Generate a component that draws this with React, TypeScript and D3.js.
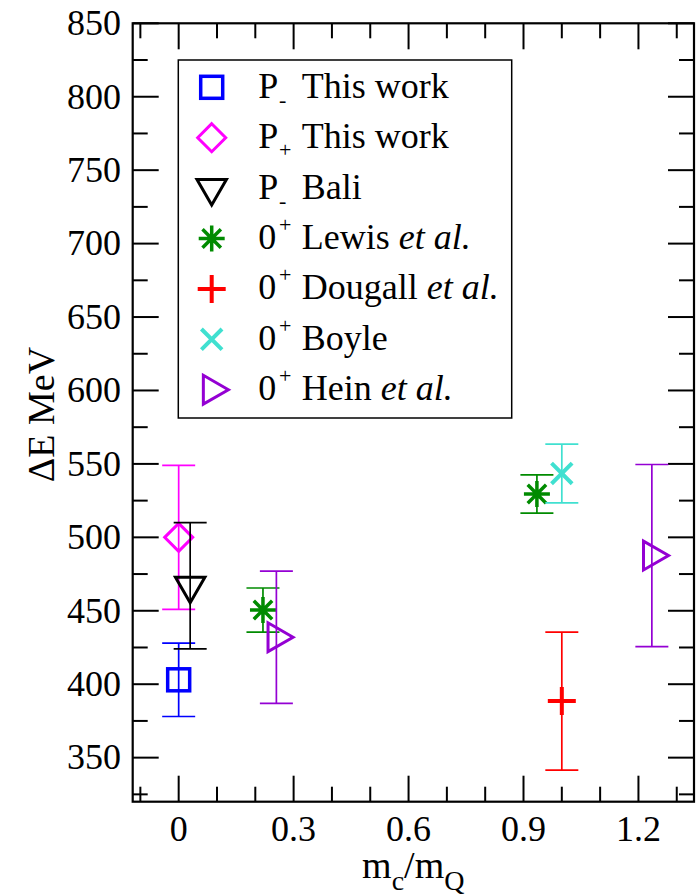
import React from "react";
import * as d3 from "d3";

// ---- data ----
const seriesNames = [
  "P- This work",
  "P+ This work",
  "P- Bali",
  "0+ Lewis et al.",
  "0+ Dougall et al.",
  "0+ Boyle",
  "0+ Hein et al.",
];
const seriesX = [[0], [0], [0.03], [0.22, 0.935], [1.0], [1.0], [0.255, 1.235]];
const seriesY = [[403], [500], [467], [450.5, 529.5], [388.5], [543.5], [432, 487.6]];
const seriesErr = [[25], [49], [43], [15, 13], [47], [20], [45, 62]];
const seriesSymbols = ["square", "diamond", "triangleDown", "asterisk", "plus", "cross", "triangleRight"];
const seriesColors = ["#0000ff", "#ff00ff", "#000000", "#008b00", "#ff0000", "#40e0d0", "#9400d3"];

const legendPrefix = ["P", "P", "P", "0", "0", "0", "0"];
const legendScript = [
  { t: "-", kind: "sub" },
  { t: "+", kind: "sub" },
  { t: "-", kind: "sub" },
  { t: "+", kind: "sup" },
  { t: "+", kind: "sup" },
  { t: "+", kind: "sup" },
  { t: "+", kind: "sup" },
];
const legendText = ["This work", "This work", "Bali", "Lewis ", "Dougall ", "Boyle", "Hein "];
const legendItalic = ["", "", "", "et al.", "et al.", "", "et al."];

const xMajorTicks = [0, 0.3, 0.6, 0.9, 1.2];
const xTickLabels = ["0", "0.3", "0.6", "0.9", "1.2"];
const xMinorTicks = [-0.1, 0.1, 0.2, 0.4, 0.5, 0.7, 0.8, 1.0, 1.1, 1.3];
const yMajorTicks = [350, 400, 450, 500, 550, 600, 650, 700, 750, 800, 850];
const yMinorTicks = [325, 375, 425, 475, 525, 575, 625, 675, 725, 775, 825];

const xDomain = [-0.12, 1.345];
const yDomain = [320, 850];

// ---- layout ----
const W = 697;
const H = 896;
const left = 132.7;
const right = 694;
const top = 23.3;
const bottom = 801.7;
const FONT = "Liberation Serif";

function Symbol({ type, cx, cy, color }: { type: string; cx: number; cy: number; color: string }) {
  const sw = 3;
  const common = { fill: "none", stroke: color, strokeWidth: sw } as any;
  switch (type) {
    case "square":
      return <rect x={cx - 11} y={cy - 11} width={22} height={22} {...common} strokeWidth={3.5} />;
    case "diamond":
      return <path d={`M${cx},${cy - 14}L${cx + 14},${cy}L${cx},${cy + 14}L${cx - 14},${cy}Z`} {...common} />;
    case "triangleDown": {
      const r = 17;
      return (
        <path
          d={`M${cx},${cy + r}L${cx + r * 0.866},${cy - r / 2}L${cx - r * 0.866},${cy - r / 2}Z`}
          {...common}
        />
      );
    }
    case "triangleRight": {
      const r = 16.7;
      return (
        <path
          d={`M${cx + r},${cy}L${cx - r / 2},${cy - r * 0.866}L${cx - r / 2},${cy + r * 0.866}Z`}
          {...common}
        />
      );
    }
    case "asterisk": {
      const r = 13;
      const d = r * 0.7071;
      return (
        <path
          d={`M${cx},${cy - r}V${cy + r}M${cx - r},${cy}H${cx + r}M${cx - d},${cy - d}L${cx + d},${cy + d}M${cx - d},${cy + d}L${cx + d},${cy - d}`}
          {...common}
          strokeWidth={3.5}
        />
      );
    }
    case "plus": {
      const r = 14;
      return <path d={`M${cx},${cy - r}V${cy + r}M${cx - r},${cy}H${cx + r}`} {...common} strokeWidth={4} />;
    }
    case "cross": {
      const d = 10.3;
      return (
        <path
          d={`M${cx - d},${cy - d}L${cx + d},${cy + d}M${cx - d},${cy + d}L${cx + d},${cy - d}`}
          {...common}
          strokeWidth={4}
        />
      );
    }
  }
  return null;
}

export default function App() {
  const x = d3.scaleLinear().domain(xDomain).range([left, right]);
  const y = d3.scaleLinear().domain(yDomain).range([bottom, top]);
  const majorLen = 26;
  const minorLen = 15;
  const capHalf = 16.5;

  const legendX = 178.3;
  const legendY = 60;
  const legendW = 333.4;
  const legendH = 358;
  const legendSymX = 211.7;
  const legendRow0 = 87.3;
  const legendStep = 50.4;

  return (
    <div>
      <style>{`body{margin:0} svg text{font-family:"Liberation Serif";}`}</style>
      <svg width={W} height={H} fontFamily={FONT}>
        <rect x={0} y={0} width={W} height={H} fill="#fff" />

        {/* ticks */}
        <g stroke="#000" strokeWidth={2}>
          {xMajorTicks.map((t, i) => (
            <g key={"xM" + i}>
              <line x1={x(t)} x2={x(t)} y1={bottom} y2={bottom - majorLen} />
              <line x1={x(t)} x2={x(t)} y1={top} y2={top + majorLen} />
            </g>
          ))}
          {xMinorTicks.map((t, i) => (
            <g key={"xm" + i}>
              <line x1={x(t)} x2={x(t)} y1={bottom} y2={bottom - minorLen} />
              <line x1={x(t)} x2={x(t)} y1={top} y2={top + minorLen} />
            </g>
          ))}
          {yMajorTicks.map((t, i) => (
            <g key={"yM" + i}>
              <line x1={left} x2={left + majorLen} y1={y(t)} y2={y(t)} />
              <line x1={right} x2={right - majorLen} y1={y(t)} y2={y(t)} />
            </g>
          ))}
          {yMinorTicks.map((t, i) => (
            <g key={"ym" + i}>
              <line x1={left} x2={left + minorLen} y1={y(t)} y2={y(t)} />
              <line x1={right} x2={right - minorLen} y1={y(t)} y2={y(t)} />
            </g>
          ))}
        </g>

        {/* tick labels */}
        {xMajorTicks.map((t, i) => (
          <text key={"xl" + i} x={x(t)} y={841} textAnchor="middle" fontSize={36} fontFamily={FONT}>
            {xTickLabels[i]}
          </text>
        ))}
        {yMajorTicks.map((t, i) => (
          <text key={"yl" + i} x={121} y={y(t) + 11.8} textAnchor="end" fontSize={36} fontFamily={FONT}>
            {String(t)}
          </text>
        ))}

        {/* axis titles */}
        <text x={413.3} y={878} fontSize={38} textAnchor="middle" fontFamily={FONT}>
          m
          <tspan fontSize={28} dy={12}>c</tspan>
          <tspan dy={-12}>/m</tspan>
          <tspan fontSize={28} dy={12}>Q</tspan>
        </text>
        <text transform={`translate(53.5,414.5) rotate(-90)`} fontSize={38} textAnchor="middle" fontFamily={FONT}>
          ΔE MeV
        </text>

        {/* data */}
        {seriesNames.map((name, si) => (
          <g key={"s" + si}>
            {seriesX[si].map((xv, j) => {
              const cx = x(xv);
              const yv = seriesY[si][j];
              const e = seriesErr[si][j];
              const yt = y(yv + e);
              const yb = y(yv - e);
              return (
                <g key={j}>
                  <g stroke={seriesColors[si]} strokeWidth={1.7}>
                    <line x1={cx} x2={cx} y1={yt} y2={yb} />
                    <line x1={cx - capHalf} x2={cx + capHalf} y1={yt} y2={yt} />
                    <line x1={cx - capHalf} x2={cx + capHalf} y1={yb} y2={yb} />
                  </g>
                  <Symbol type={seriesSymbols[si]} cx={cx} cy={y(yv)} color={seriesColors[si]} />
                </g>
              );
            })}
          </g>
        ))}

        {/* legend */}
        <rect x={legendX} y={legendY} width={legendW} height={legendH} fill="#fff" stroke="#000" strokeWidth={1.5} />
        {seriesNames.map((name, i) => {
          const cy = legendRow0 + i * legendStep;
          const base = cy + 10.5;
          const sc = legendScript[i];
          return (
            <g key={"lg" + i}>
              <Symbol type={seriesSymbols[i]} cx={legendSymX} cy={cy} color={seriesColors[i]} />
              <text x={258.3} y={base} fontSize={36} fontFamily={FONT}>
                {legendPrefix[i]}
              </text>
              <text x={279} y={sc.kind === "sub" ? base + 9 : base - 17} fontSize={22} fontFamily={FONT}>
                {sc.t}
              </text>
              <text x={301.7} y={base} fontSize={36} fontFamily={FONT}>
                {legendText[i]}
                {legendItalic[i] ? <tspan fontStyle="italic">{legendItalic[i]}</tspan> : null}
              </text>
            </g>
          );
        })}

        {/* frame */}
        <rect x={left} y={top} width={right - left} height={bottom - top} fill="none" stroke="#000" strokeWidth={2.2} />
      </svg>
    </div>
  );
}
